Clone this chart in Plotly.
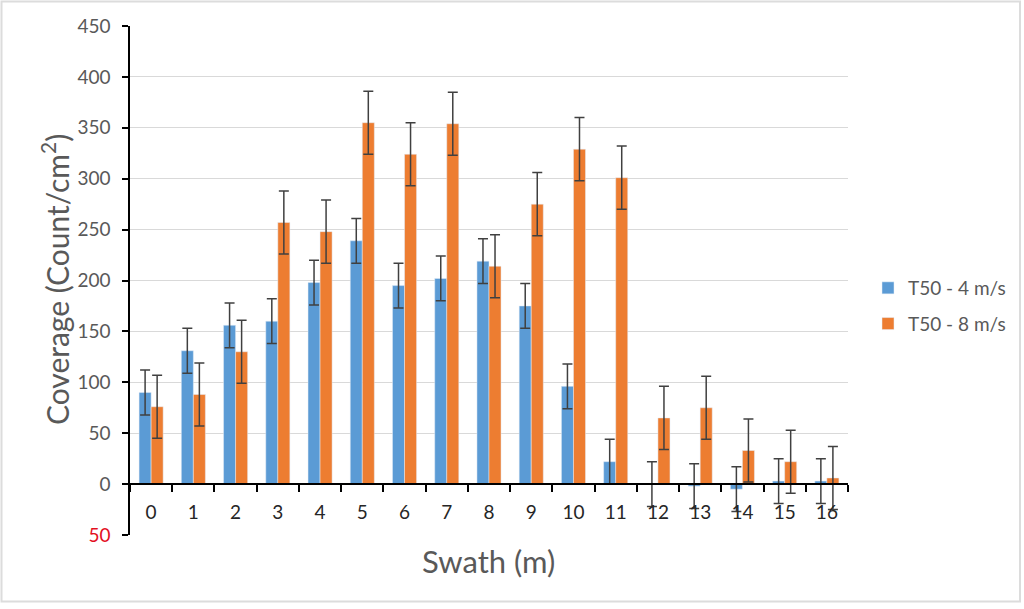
import plotly.graph_objects as go

categories = [str(i) for i in range(17)]
blue_vals = [90, 131, 156, 160, 198, 239, 195, 202, 219, 175, 96, 22, 0, -2, -5, 3, 3]
blue_err = [22, 22, 22, 22, 22, 22, 22, 22, 22, 22, 22, 22, 22, 22, 22, 22, 22]
orange_vals = [76, 88, 130, 257, 248, 355, 324, 354, 214, 275, 329, 301, 65, 75, 33, 22, 6]
orange_err = [31, 31, 31, 31, 31, 31, 31, 31, 31, 31, 31, 31, 31, 31, 31, 31, 31]
series_names = ["T50 - 4 m/s", "T50 - 8 m/s"]
y_tickvals = [-50, 0, 50, 100, 150, 200, 250, 300, 350, 400, 450]
y_ticktext = ['<span style="color:#e3101e">50</span>', "0", "50", "100", "150", "200",
              "250", "300", "350", "400", "450"]

FONT = "Lato"
W, H = 1024, 609
PL, PR, PT, PB = 130, 848, 26, 535  # plot area in page pixels
ML, MT = PL, PT
PW, PH = PR - PL, PB - PT
MR, MB = W - ML - PW, H - MT - PH


def px(x):
    return (x - PL) / PW


def py(y):
    return (PB - y) / PH


fig = go.Figure()
fig.add_trace(go.Bar(
    x=categories, y=blue_vals, name=series_names[0], marker_color="#5B9BD5",
    legendgroup="a",
    error_y=dict(type="data", array=blue_err, visible=True, color="#404040",
                 thickness=1.5, width=5)))
fig.add_trace(go.Bar(
    x=categories, y=orange_vals, name=series_names[1], marker_color="#ED7D31",
    legendgroup="b",
    error_y=dict(type="data", array=orange_err, visible=True, color="#404040",
                 thickness=1.5, width=5)))

fig.update_layout(
    width=W, height=H, autosize=False,
    margin=dict(l=ML, r=MR, t=MT, b=MB, autoexpand=False),
    paper_bgcolor="white", plot_bgcolor="white",
    barmode="group", bargap=0.43, bargroupgap=0,
    font=dict(family=FONT, color="#595959"),
    legend=dict(x=px(868), y=py(306), xanchor="left", yanchor="middle",
                font=dict(size=19, color="#595959"), tracegroupgap=8,
                itemwidth=30),
    xaxis=dict(type="category", range=[-0.5, 16.5], anchor="free", position=0.1,
               showline=True, linecolor="black", linewidth=1.5,
               ticks="outside", tickson="boundaries", ticklen=7, tickcolor="black",
               tickwidth=1.5, showgrid=False, automargin=False,
               tickfont=dict(size=19, color="#262626"), ticklabelstandoff=11),
    yaxis=dict(range=[-50, 450], tickvals=y_tickvals, ticktext=y_ticktext,
               showgrid=True, gridcolor="#d9d9d9", gridwidth=1, zeroline=False,
               showline=True, linecolor="black", linewidth=1.5, automargin=False,
               ticks="outside", ticklen=6, tickcolor="black", tickwidth=1.5,
               tickfont=dict(size=19, color="#595959"), ticklabelstandoff=8),
    annotations=[
        dict(text="Coverage (Count/cm<sup>2</sup>)", xref="paper", yref="paper",
             x=px(55), y=py(280), textangle=-90,
             showarrow=False, font=dict(size=30, color="#595959"),
             xanchor="center", yanchor="middle"),
        dict(text="Swath (m)", xref="paper", yref="paper",
             x=px(488), y=py(561),
             showarrow=False, font=dict(size=31, color="#595959"),
             xanchor="center", yanchor="middle"),
    ],
    shapes=[
        dict(type="rect", xref="paper", yref="paper",
             x0=px(1.5), x1=px(1020), y0=py(601.5), y1=py(1.5),
             line=dict(color="#dcdcdc", width=2), layer="below"),
    ],
)

fig.write_html(
    "out.html",
    config={"displayModeBar": False, "responsive": False},
    post_script="document.body.style.margin='0px';document.body.style.overflow='hidden';",
)
